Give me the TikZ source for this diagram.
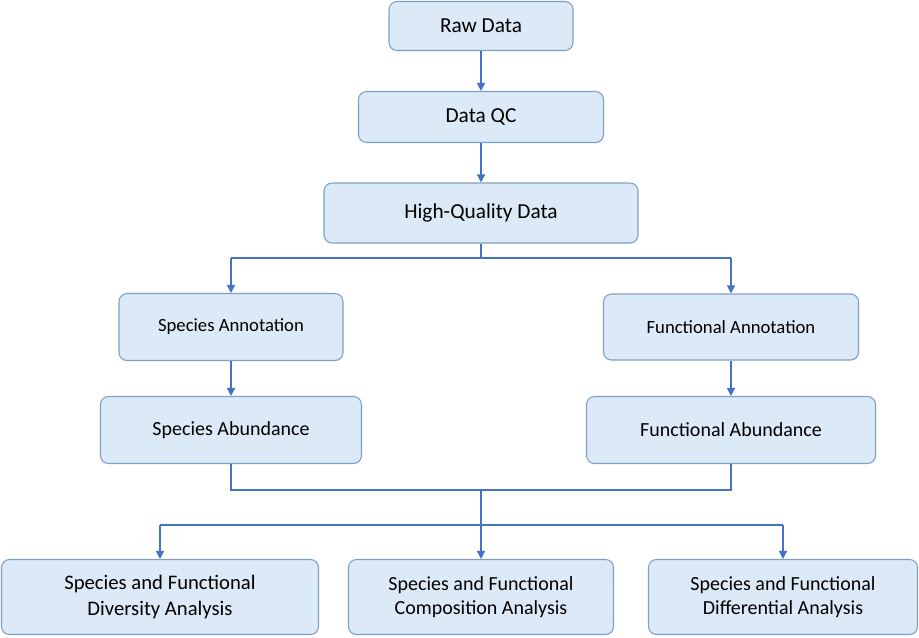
\documentclass[tikz,border=0pt]{standalone}
\usepackage{fontspec}
\setmainfont{Carlito}
\usetikzlibrary{arrows.meta}
\definecolor{boxfill}{HTML}{DCE9F6}
\definecolor{boxdraw}{HTML}{7F9FC6}
\definecolor{arr}{HTML}{4472C4}
\tikzset{
  box/.style={draw=boxdraw, fill=boxfill, rounded corners=6pt, line width=0.8pt, align=center, inner sep=0pt},
  ln/.style={draw=arr, line width=1pt},
  ar/.style={ln, -{Triangle[length=6pt,width=6pt]}}
}
\begin{document}
\begin{tikzpicture}[x=0.75pt,y=-0.75pt]
\useasboundingbox (0,0) rectangle (919,637);
\newcommand{\bx}[7]{\node[box, minimum width=#4*0.75pt, minimum height=#5*0.75pt, font=\fontsize{#6pt}{1.22\dimexpr#6pt\relax}\selectfont] (#1) at (#2,#3) {#7};}
\bx{raw}{481}{26}{184}{49}{16}{Raw Data}
\bx{qc}{481}{117}{245}{51}{16}{Data QC}
\bx{hq}{481}{213}{314}{60}{16}{High-Quality Data}
\bx{sa}{231}{327}{224}{67}{14}{Species Annotation}
\bx{fa}{731}{327}{255}{66}{14}{Functional Annotation}
\bx{sb}{231}{430}{261}{67}{15}{Species Abundance}
\bx{fb}{731}{430}{289}{67}{15}{Functional Abundance}
\bx{d1}{160}{597}{317}{75}{15.5}{Species and Functional\\Diversity Analysis}
\bx{d2}{481}{597}{265}{75}{15}{Species and Functional\\Composition Analysis}
\bx{d3}{783}{597}{269}{75}{15}{Species and Functional\\Differential Analysis}
\draw[ar] (raw) -- (qc);
\draw[ar] (qc) -- (hq);
\coordinate (j1) at (481,258);
\coordinate (j1l) at (231,258);
\coordinate (j1r) at (731,258);
\draw[ln] (hq) -- (j1);
\draw[ln] (j1l) -- (j1r);
\draw[ar] (j1l) -- (sa);
\draw[ar] (j1r) -- (fa);
\draw[ar] (sa) -- (sb);
\draw[ar] (fa) -- (fb);
\coordinate (j2l) at (231,490);
\coordinate (j2r) at (731,490);
\coordinate (j2) at (481,490);
\draw[ln] (sb.south) -- (j2l) -- (j2r) -- (fb.south);
\draw[ar] (j2) -- (d2);
\coordinate (j3l) at (160,525);
\coordinate (j3r) at (783,525);
\draw[ln] (j3l) -- (j3r);
\draw[ar] (j3l) -- (d1);
\draw[ar] (j3r) -- (d3);
\end{tikzpicture}
\end{document}
